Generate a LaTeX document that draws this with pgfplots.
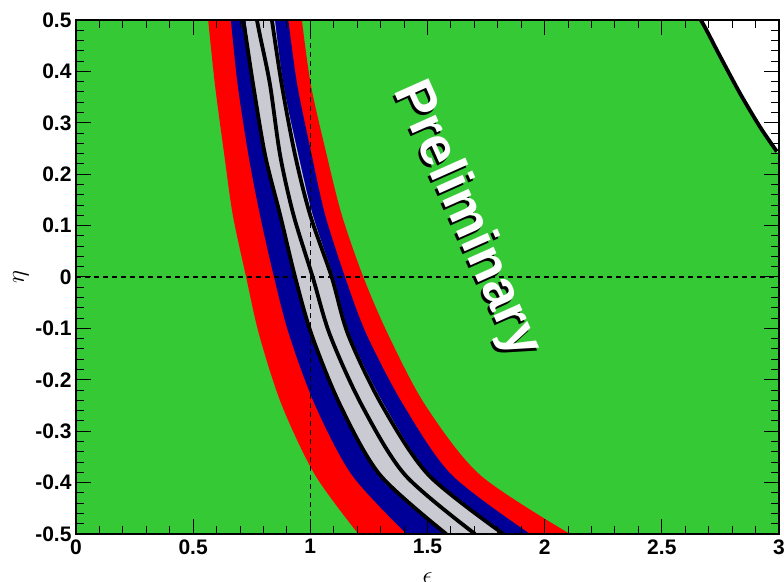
\documentclass[border=0pt]{standalone}
\usepackage{pgfplots}
\pgfplotsset{compat=1.18}
\usepgfplotslibrary{fillbetween}
\usepackage{fontspec}
\setmainfont{Liberation Sans}
\definecolor{cgreen}{RGB}{53,201,53}
\definecolor{cred}{RGB}{255,0,0}
\definecolor{cblue}{RGB}{0,0,153}
\definecolor{cgrey}{RGB}{202,202,210}
\begin{document}
\begin{tikzpicture}
\begin{axis}[
  name=ax,
  at={(0,0)}, anchor=south west,
  scale only axis, width=703pt, height=514pt,
  xmin=0, xmax=3, ymin=-0.5, ymax=0.5,
  axis background/.style={fill=cgreen},
  xtick={0,0.5,1,1.5,2,2.5,3},
  xticklabels={0,0.5,1,1.5,2,2.5,3},
  ytick={-0.5,-0.4,-0.3,-0.2,-0.1,0,0.1,0.2,0.3,0.4,0.5},
  yticklabels={-0.5,-0.4,-0.3,-0.2,-0.1,0,0.1,0.2,0.3,0.4,0.5},
  minor x tick num=4, minor y tick num=4,
  tick align=inside,
  major tick length=15pt, minor tick length=8pt,
  tick style={black, line width=1pt},
  axis line style={black, line width=1.6pt},
  ticklabel style={font=\fontsize{21}{21}\selectfont\bfseries},
  xticklabel style={yshift=-2pt},
  yticklabel style={xshift=-1pt},
  axis on top,
]
% white region (top right)
\addplot[fill=white, draw=none] coordinates {
 (2.64,0.5) (2.666,0.5) (2.749,0.429) (2.834,0.357) (2.919,0.292) (2.991,0.244) (3.0,0.24) (3.0,0.5)} -- cycle;
% band edges
\addplot[name path=RL, draw=none, smooth] coordinates {
 (0.564,0.5) (0.593,0.374) (0.633,0.237) (0.669,0.121) (0.726,0) (0.782,-0.113) (0.878,-0.249) (1.020,-0.385) (1.205,-0.5)};
\addplot[name path=RR, draw=none, smooth] coordinates {
 (0.964,0.5) (1.002,0.374) (1.070,0.237) (1.134,0.121) (1.226,0) (1.333,-0.113) (1.490,-0.249) (1.724,-0.385) (2.108,-0.5)};
\addplot[name path=BL, draw=none, smooth] coordinates {
 (0.661,0.5) (0.690,0.374) (0.736,0.237) (0.785,0.121) (0.845,0) (0.910,-0.113) (1.020,-0.249) (1.177,-0.385) (1.411,-0.5)};
\addplot[name path=BR, draw=none, smooth] coordinates {
 (0.906,0.5) (0.944,0.374) (1.006,0.237) (1.063,0.121) (1.148,0) (1.241,-0.113) (1.397,-0.249) (1.603,-0.385) (1.938,-0.5)};
\addplot[name path=GL, draw=none, smooth] coordinates {
 (0.724,0.5) (0.756,0.374) (0.807,0.237) (0.871,0.121) (0.935,0) (1.006,-0.113) (1.127,-0.249) (1.297,-0.385) (1.572,-0.5)};
\addplot[name path=GR, draw=none, smooth] coordinates {
 (0.849,0.5) (0.885,0.374) (0.949,0.237) (1.010,0.121) (1.098,0) (1.169,-0.113) (1.315,-0.249) (1.511,-0.385) (1.830,-0.5)};
\addplot[fill=cred, draw=none] fill between[of=RL and RR];
\addplot[fill=cblue, draw=none] fill between[of=BL and BR];
\addplot[fill=cgrey, draw=none] fill between[of=GL and GR];
% contour lines
\addplot[black, line width=3.8pt, smooth] coordinates {
 (0.712,0.5) (0.724,0.47) (0.756,0.374) (0.807,0.237) (0.871,0.121) (0.935,0) (1.006,-0.113) (1.127,-0.249) (1.297,-0.385) (1.580,-0.5)};
\addplot[black, line width=3.8pt, smooth] coordinates {
 (0.772,0.5) (0.785,0.47) (0.828,0.374) (0.871,0.237) (0.928,0.121) (1.010,0) (1.084,-0.113) (1.219,-0.249) (1.404,-0.385) (1.703,-0.5)};
\addplot[black, line width=3.8pt, smooth] coordinates {
 (0.836,0.5) (0.878,0.374) (0.935,0.237) (0.999,0.121) (1.091,0) (1.162,-0.113) (1.305,-0.249) (1.504,-0.385) (1.824,-0.5)};
\addplot[black, line width=3.8pt, smooth] coordinates {
 (2.64,0.5) (2.666,0.5) (2.749,0.429) (2.834,0.357) (2.919,0.292) (2.991,0.244)};
% dashed reference lines
\addplot[black, line width=1.2pt, dash pattern=on 5pt off 4pt] coordinates {(1,-0.5) (1,0.5)};
\addplot[black, line width=1.2pt, dash pattern=on 5pt off 4pt] coordinates {(0,0) (3,0)};
% Preliminary
\node[rotate=-66, text=black, font=\fontsize{54}{54}\selectfont\bfseries] at ([shift={(-2pt,-3pt)}]axis cs:1.665,0.112) {Preliminary};
\node[rotate=-66, text=white, font=\fontsize{54}{54}\selectfont\bfseries] at (axis cs:1.665,0.112) {Preliminary};
\end{axis}
% axis titles
\node[rotate=90, font=\fontsize{30}{30}\selectfont] at ([xshift=-55pt]ax.west) {$\eta$};
\node[font=\fontsize{30}{30}\selectfont] at ([yshift=-44pt]ax.south) {$\epsilon$};
\pgfresetboundingbox
\path[use as bounding box] (-76pt,-47pt) rectangle (708pt,534pt);
\end{tikzpicture}
\end{document}
